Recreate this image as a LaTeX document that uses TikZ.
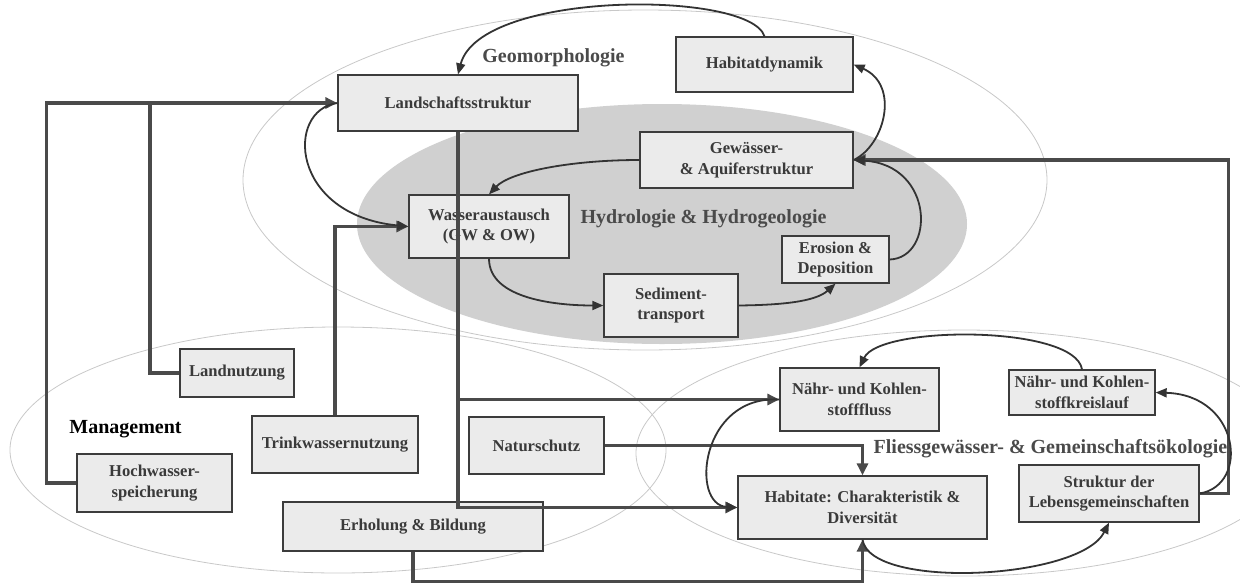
\documentclass[tikz,border=0pt]{standalone}
\usepackage{fontspec}
\setmainfont{Liberation Serif}
\usetikzlibrary{arrows.meta}
\definecolor{boxfill}{HTML}{EBEBEB}
\definecolor{boxdraw}{HTML}{3C3C3C}
\definecolor{txt}{HTML}{3A3A3A}
\definecolor{linecol}{HTML}{4A4A4A}
\definecolor{thincol}{HTML}{333333}
\definecolor{ellline}{HTML}{C8C8C8}
\definecolor{hydrofill}{HTML}{D0D0D0}
\begin{document}
\begin{tikzpicture}[x=1pt,y=-1pt,
 box/.style={draw=boxdraw, line width=1.3pt, fill=boxfill, text=txt, inner sep=0pt, align=center, font=\fontsize{16.6}{20.5}\selectfont\bfseries},
 region/.style={text=linecol, font=\fontsize{20}{24}\selectfont\bfseries, anchor=base, inner sep=0pt},
 thickarrow/.style={draw=linecol, line width=3.5pt, -{Triangle[length=12pt,width=11pt]}},
 thickline/.style={draw=linecol, line width=3.5pt},
 thinarrow/.style={draw=thincol, line width=1.8pt, -{Triangle[length=11pt,width=9pt]}},
 ell/.style={draw=ellline, line width=0.8pt}
]
\useasboundingbox (0,0) rectangle (1240,587);
\begin{scope}
\clip (0,0) rectangle (1240,587);
\draw[ell] (645,180) ellipse [x radius=402, y radius=170];
\draw[ell] (338,450) ellipse [x radius=328, y radius=123];
\draw[ell] (964,453) ellipse [x radius=328, y radius=123];
\fill[hydrofill] (662,224) ellipse [x radius=305, y radius=120];
\end{scope}

% region labels
\node[region] (lgeo) at (553.5,62) {Geomorphologie};
\node[region] (lhyd) at (703.5,223) {Hydrologie \& Hydrogeologie};
\node[region, text=black] (lman) at (125.5,433) {Management};
\node[region] (lfli) at (1050.5,453) {Fliessgewässer- \& Gemeinschaftsökologie};

% boxes
\node[box, minimum width=240pt, minimum height=56pt] (land) at (458,103) {Landschaftsstruktur};
\node[box, minimum width=177pt, minimum height=55pt] (habdyn) at (764.5,64.5) {Habitatdynamik};
\node[box, minimum width=213pt, minimum height=56pt] (gew) at (746.5,160) {Gewässer-\\\& Aquiferstruktur};
\node[box, minimum width=160pt, minimum height=63pt] (wasser) at (489,226.5) {Wasseraustausch\\(GW \& OW)};
\node[box, minimum width=134pt, minimum height=63pt] (sed) at (671,305.5) {Sediment-\\transport};
\node[box, minimum width=107pt, minimum height=47pt] (ero) at (835.5,259.5) {Erosion \&\\Deposition};
\node[box, minimum width=114pt, minimum height=48pt] (landn) at (237,373) {Landnutzung};
\node[box, minimum width=166pt, minimum height=57pt] (trink) at (335,444.5) {Trinkwassernutzung};
\node[box, minimum width=155pt, minimum height=58pt] (hoch) at (154.5,483) {Hochwasser-\\speicherung};
\node[box, minimum width=260pt, minimum height=49pt] (erh) at (413,526.5) {Erholung \& Bildung};
\node[box, minimum width=135pt, minimum height=57pt] (natur) at (536.5,445.5) {Naturschutz};
\node[box, minimum width=159pt, minimum height=63pt] (nfluss) at (859.5,399.5) {Nähr- und Kohlen-\\stofffluss};
\node[box, minimum width=146pt, minimum height=45pt] (nkreis) at (1082,392.5) {Nähr- und Kohlen-\\stoffkreislauf};
\node[box, minimum width=249pt, minimum height=63pt] (habitate) at (862.5,507.5) {Habitate: Charakteristik \&\\Diversität};
\node[box, minimum width=180pt, minimum height=57pt] (struktur) at (1109,493.5) {Struktur der\\Lebensgemeinschaften};

% thick management connectors
\coordinate (j1) at (150,103);
\draw[thickarrow] (hoch.west) -- ++(-30,0) |- (land.west);
\draw[thickline] (landn.west) -| (j1);
\draw[thickarrow] (trink.north) |- (wasser.west);
\draw[thickarrow] (land.south) |- (habitate.west);
\draw[thickarrow] (land.south |- nfluss.west) -- (nfluss.west);
\draw[thickarrow] (natur.east) -| (habitate.north);
\draw[thickarrow] (erh.south) -- ++(0,30) -| (habitate.south);
\draw[thickarrow] (struktur.east) -- ++(29,0) |- (gew.east);

% thin process arrows
\draw[thinarrow] (habdyn.north) .. controls (750,-10) and (480,-10) .. (land.north);
\draw[thinarrow] (gew.east) .. controls (885,145) and (900,85) .. (habdyn.east);
\draw[thinarrow] (ero.east) .. controls (935,258) and (935,165) .. (gew.east);
\draw[thinarrow] (gew.west) .. controls (570,160) and (510,172) .. (wasser.north);
\draw[thinarrow] (land.west) .. controls (285,110) and (290,215) .. (wasser.west);
\draw[thinarrow] (wasser.south) .. controls (489,300) and (560,305.5) .. (sed.west);
\draw[thinarrow] (sed.east) .. controls (780,305) and (815,302) .. (ero.south);
\draw[thinarrow] (nkreis.north) .. controls (1075,325) and (880,325) .. (nfluss.north);
\draw[thinarrow] (struktur.east) .. controls (1250,485) and (1240,395) .. (nkreis.east);
\draw[thinarrow] (habitate.south) .. controls (870,590) and (1080,580) .. (struktur.south);
\draw[thinarrow] (nfluss.west) .. controls (700,395) and (690,505) .. (habitate.west);
\end{tikzpicture}
\end{document}
